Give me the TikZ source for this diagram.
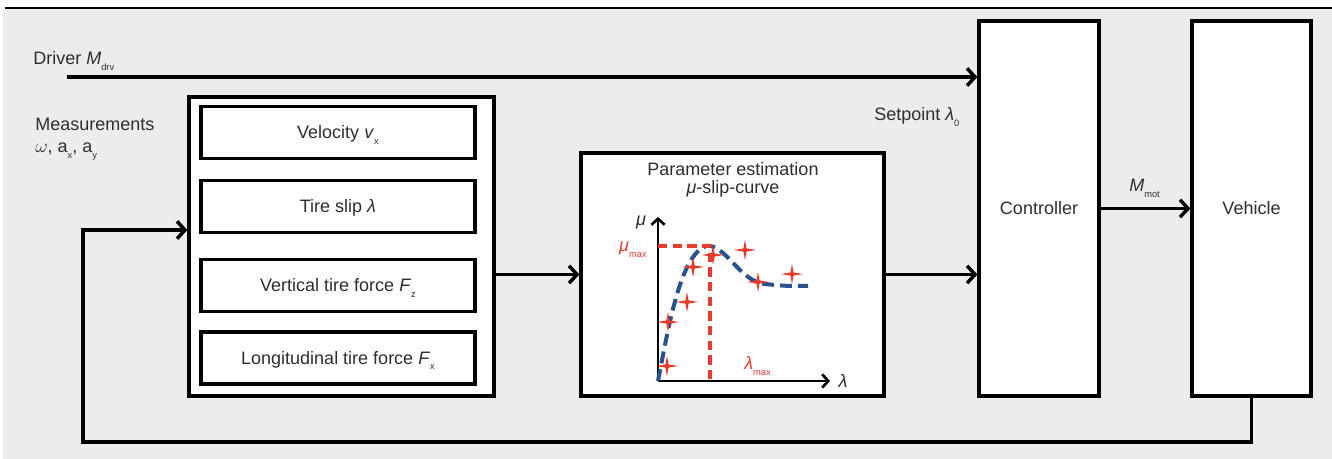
\documentclass[tikz,border=0pt]{standalone}
\usepackage{fontspec}
\setmainfont{Liberation Sans}
\usetikzlibrary{arrows.meta}
\definecolor{bg}{HTML}{EBECEB}
\definecolor{ered}{HTML}{E63C2C}
\definecolor{eblue}{HTML}{2B5190}
\definecolor{txt}{HTML}{2E2E2E}
\newcommand\lo[1]{\raisebox{-0.55ex}{\fontsize{7}{8}\selectfont #1}}
\begin{document}
\begin{tikzpicture}[x=0.75pt,y=-0.75pt,
  font=\fontsize{13.5}{15}\selectfont,
  box/.style={draw, line width=2.4pt, fill=white, inner sep=0pt, text=txt, text height=9.7pt, text depth=0pt},
  lbl/.style={text=txt, inner sep=0pt},
  arr/.style={line width=2.6pt, -{Straight Barb[length=6pt,width=13pt]}},
  axisline/.style={line width=2pt, -{Straight Barb[length=4.5pt,width=10pt]}},
  spark/.pic={\fill[ered] (0,-10)--(1.6,-1.6)--(11,0)--(1.6,1.6)--(0,10)--(-1.6,1.6)--(-11,0)--(-1.6,-1.6)--cycle;}
]
\useasboundingbox (0,0) rectangle (1332,459);
\fill[bg] (3,9) rectangle (1332,459);
\draw[line width=0.9pt] (5,8) -- (1332,8);

% measurement block
\node[box, minimum width=228.75pt, minimum height=224.25pt] (meas) at (341.5,246.5) {};
\node[box, minimum width=205.5pt, minimum height=39pt] (vel) at (338,132.5) {Velocity \textit{v}\lo{x}};
\node[box, minimum width=205.5pt, minimum height=39pt] (slip) at (338,206.5) {Tire slip \textit{λ}};
\node[box, minimum width=205.5pt, minimum height=39pt] (fz) at (338,285.5) {Vertical tire force \textit{F}\lo{z}};
\node[box, minimum width=205.5pt, minimum height=39pt] (fx) at (338,358) {Longitudinal tire force \textit{F}\lo{x}};

% parameter estimation
\node[box, minimum width=227.25pt, minimum height=182.25pt] (par) at (732.5,274.5) {};
\node[lbl, align=center, anchor=base, font=\fontsize{13.5}{13.5}\selectfont] (partxt) at (733,194) {Parameter estimation\\\textit{μ}-slip-curve};

% controller and vehicle
\node[box, minimum width=90pt, minimum height=281.25pt] (ctrl) at (1039,208.5) {Controller};
\node[box, minimum width=89.25pt, minimum height=281.25pt] (veh) at (1251.5,208.5) {Vehicle};

% labels
\node[lbl, anchor=base west] (drvlbl) at (33,65) {Driver \textit{M}\lo{drv}};
\node[lbl, anchor=base west, align=left, font=\fontsize{13.5}{17}\selectfont] (measlbl) at (35,153) {Measurements\\$\omega$, a\lo{x}, a\lo{y}};
\node[lbl, anchor=base west] (setlbl) at (874,121) {Setpoint \textit{λ}\lo{0}};
\node[lbl, anchor=base west] (mmot) at (1129,192) {\textit{M}\lo{mot}};

% connectors
\coordinate (drvstart) at (67,77);
\draw[arr] (drvstart) -- (drvstart -| ctrl.west);
\coordinate (fb1) at (1251.5,442);
\coordinate (fb2) at (83,442);
\coordinate (fb3) at (83,230);
\draw[arr] (veh.south) -- (fb1) -- (fb2) -- (fb3) -- (fb3 -| meas.west);
\draw[arr] (meas.east |- par.west) -- (par.west);
\draw[arr] (par.east) -- (par.east -| ctrl.west);
\draw[arr] (ctrl.east) -- (veh.west);

% mu-slip plot
\coordinate (O) at (658,381);
\coordinate (ytop) at (658,217);
\coordinate (xend) at (830,381);
\draw[axisline] (O) -- (ytop);
\draw[axisline] (O) -- (xend);
\node[lbl] (mulbl) at (641,222) {\textit{μ}};
\node[lbl] (lamlbl) at (843,381) {\textit{λ}};
\draw[eblue, line width=3pt, dash pattern=on 9pt off 4.5pt]
  (658,381) .. controls (668,330) and (680,255) .. (706,246)
  .. controls (725,243) and (740,282) .. (765,284)
  .. controls (785,286) .. (808,286);
\coordinate (pk) at (710,246);
\draw[ered, line width=2.6pt, dash pattern=on 7pt off 4pt] (O |- pk) -- (pk) -- (pk |- O);
\node[lbl, text=ered, anchor=base east] (mumax) at (647,252) {\textit{μ}\lo{max}};
\node[lbl, text=ered, anchor=base west] (lammax) at (744,370) {\textit{λ}\lo{max}};
\foreach \p in {(667,366),(668,322),(687,302),(693,267),(713,255),(745,250),(758,282),(792,274)}
  \pic at \p {spark};
\end{tikzpicture}
\end{document}
